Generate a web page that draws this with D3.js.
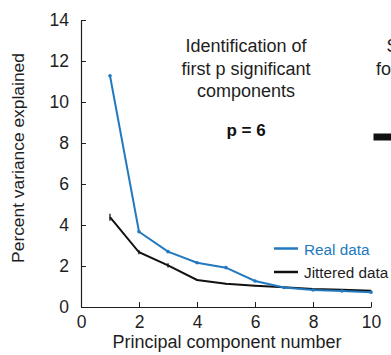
<!DOCTYPE html>
<html>
<head>
<meta charset="utf-8">
<script src="https://cdn.jsdelivr.net/npm/d3@7"></script>
<style>
  html, body { margin: 0; padding: 0; background: #fff; }
  svg { display: block; font-family: "Liberation Sans", Arial, sans-serif; }
</style>
</head>
<body>
<svg id="chart" width="391" height="355"></svg>
<script>
// Scree plot: percent variance explained per principal component
const components = [1, 2, 3, 4, 5, 6, 7, 8, 9, 10];
const realData = [11.28, 3.67, 2.7, 2.16, 1.92, 1.27, 0.95, 0.83, 0.78, 0.72];
const jitteredData = [4.38, 2.67, 2.03, 1.32, 1.13, 1.04, 0.96, 0.88, 0.84, 0.79];
const jitteredErr = [0.17, 0.1, 0.1, 0.05, 0.04, 0.03, 0.03, 0.03, 0.03, 0.03];
const xTicks = [0, 2, 4, 6, 8, 10];
const yTicks = [0, 2, 4, 6, 8, 10, 12, 14];

const blue = "#2379bf";
const ink = "#1e1e1e";
const svg = d3.select("#chart");

const x = d3.scaleLinear().domain([0, 10]).range([81, 371]);
const y = d3.scaleLinear().domain([0, 14]).range([307, 20]);

// Axes with inward ticks
const yAxis = svg.append("g").attr("transform", `translate(${x(0)},0)`)
  .call(d3.axisLeft(y).tickValues(yTicks).tickSizeInner(-5).tickSizeOuter(0).tickPadding(12));
const xAxis = svg.append("g").attr("transform", `translate(0,${y(0)})`)
  .call(d3.axisBottom(x).tickValues(xTicks).tickSizeInner(-5).tickSizeOuter(0).tickPadding(9));
[yAxis, xAxis].forEach(g => {
  g.select(".domain").attr("stroke", ink).attr("stroke-width", 1.2);
  g.selectAll(".tick line").attr("stroke", ink).attr("stroke-width", 1);
  g.selectAll(".tick text").attr("fill", ink).style("font-size", "17.5px")
    .style("font-family", "'Liberation Sans', Arial, sans-serif");
});

// Axis titles
svg.append("text")
  .attr("transform", `translate(24,158) rotate(-90)`)
  .attr("text-anchor", "middle").attr("fill", ink).style("font-size", "17.4px")
  .text("Percent variance explained");
svg.append("text")
  .attr("x", 227).attr("y", 348)
  .attr("text-anchor", "middle").attr("fill", ink).style("font-size", "18px")
  .text("Principal component number");

const line = d3.line().x((d, i) => x(components[i])).y(d => y(d));

// Jittered data with error bars
svg.append("path").datum(jitteredData)
  .attr("d", line).attr("fill", "none").attr("stroke", "#111").attr("stroke-width", 2);
svg.selectAll(".err").data(jitteredData).enter().append("line")
  .attr("x1", (d, i) => x(components[i])).attr("x2", (d, i) => x(components[i]))
  .attr("y1", (d, i) => y(d + jitteredErr[i])).attr("y2", (d, i) => y(d - jitteredErr[i]))
  .attr("stroke", "#111").attr("stroke-width", 1.3);

// Real data
svg.append("path").datum(realData)
  .attr("d", line).attr("fill", "none").attr("stroke", blue).attr("stroke-width", 2);
svg.selectAll(".dotR").data(realData).enter().append("circle")
  .attr("cx", (d, i) => x(components[i])).attr("cy", d => y(d)).attr("r", 1.8).attr("fill", blue);

// Legend
const legend = [{ label: "Real data", color: blue, y: 248.5 }, { label: "Jittered data", color: "#111", y: 272 }];
legend.forEach(l => {
  svg.append("line").attr("x1", 274).attr("x2", 298).attr("y1", l.y).attr("y2", l.y)
    .attr("stroke", l.color).attr("stroke-width", 2.5);
  svg.append("text").attr("x", 304).attr("y", l.y + 6)
    .attr("fill", l.label === "Real data" ? blue : ink).style("font-size", "15.3px").text(l.label);
});

// Annotation
const notes = ["Identification of", "first p significant", "components"];
const noteY = [52, 75, 97];
notes.forEach((t, i) => {
  svg.append("text").attr("x", 246).attr("y", noteY[i])
    .attr("text-anchor", "middle").attr("fill", ink).style("font-size", "18px").text(t);
});
svg.append("text").attr("x", 246).attr("y", 135.5).attr("text-anchor", "middle")
  .attr("fill", "#111").style("font-size", "17px").style("font-weight", "bold").text("p = 6");

// Edge of the neighbouring panel
svg.append("text").attr("x", 386.5).attr("y", 52).attr("fill", ink).style("font-size", "18px").text("S");
svg.append("text").attr("x", 376).attr("y", 75).attr("fill", ink).style("font-size", "18px").text("fo");
svg.append("rect").attr("x", 373.5).attr("y", 133.5).attr("width", 20).attr("height", 7).attr("fill", "#111");
</script>
</body>
</html>
